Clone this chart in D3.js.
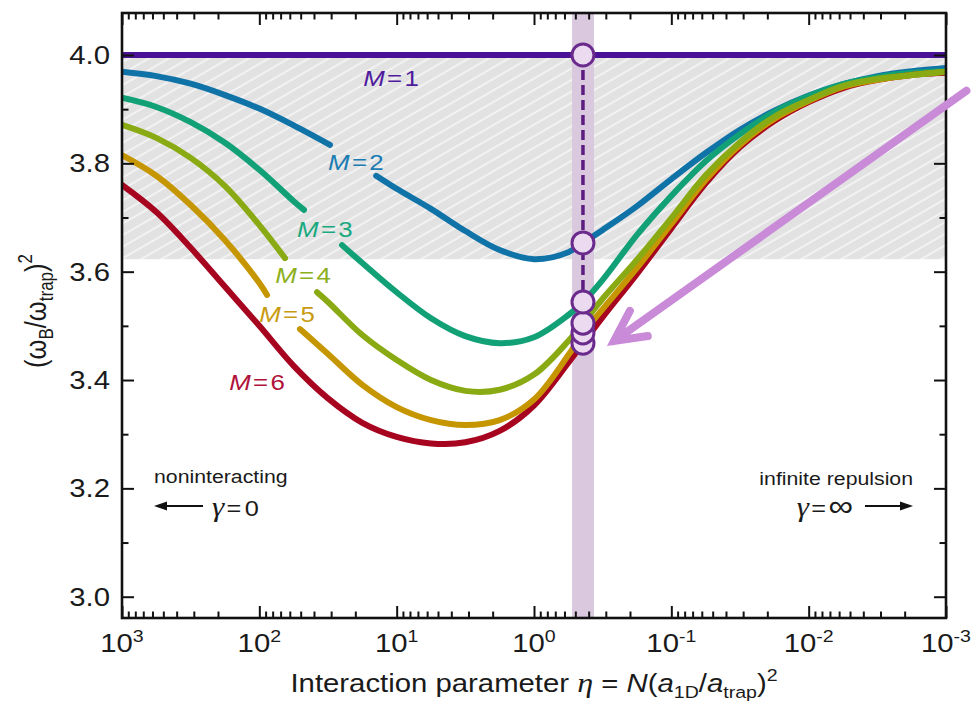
<!DOCTYPE html>
<html>
<head>
<meta charset="utf-8">
<script src="https://cdn.jsdelivr.net/npm/d3@7"></script>
<style>
  body { margin: 0; background: #ffffff; }
  svg { display: block; }
  text { font-family: "Liberation Sans", Arial, Helvetica, sans-serif; fill: #1a1a1a; }
</style>
</head>
<body>
<svg id="chart" width="971" height="701"></svg>
<script>
// Breathing-mode frequency (omega_B/omega_trap)^2 versus interaction parameter eta,
// for particle numbers M = 1 ... 6. Each series is a list of [eta, value] pairs;
// null splits a curve where its label sits.

const particleNumbers = ["1", "2", "3", "4", "5", "6"];

const seriesM1 = [[1000, 4.000], [0.001, 4.000]];

const seriesM2 = [
  [1000, 3.969], [562.3, 3.961], [316.2, 3.947], [177.8, 3.926], [100, 3.901], [56.23, 3.870], [30.6, 3.834],
  null,
  [14.1, 3.777], [10, 3.753], [5.623, 3.716], [3.162, 3.675], [1.778, 3.640], [1, 3.623], [0.5623, 3.636],
  [0.3162, 3.677], [0.1778, 3.721], [0.1, 3.771], [0.05623, 3.819], [0.03162, 3.862], [0.01778, 3.897],
  [0.01, 3.925], [0.005623, 3.946], [0.003162, 3.961], [0.001778, 3.970], [0.001, 3.976]
];

const seriesM3 = [
  [1000, 3.921], [562.3, 3.904], [316.2, 3.876], [177.8, 3.838], [100, 3.788], [56.23, 3.730], [47.3, 3.714],
  null,
  [25.0, 3.649], [17.78, 3.616], [10, 3.562], [5.623, 3.514], [3.162, 3.481], [1.778, 3.468], [1, 3.479],
  [0.5623, 3.520], [0.3162, 3.585], [0.1778, 3.668], [0.1, 3.740], [0.05623, 3.804], [0.03162, 3.854],
  [0.01778, 3.895], [0.01, 3.924], [0.005623, 3.946], [0.003162, 3.959], [0.001778, 3.967], [0.001, 3.970]
];

const seriesM4 = [
  [1000, 3.871], [562.3, 3.847], [316.2, 3.810], [177.8, 3.758], [100, 3.686], [65.0, 3.625],
  null,
  [38.0, 3.562], [31.62, 3.544], [17.78, 3.483], [10, 3.437], [5.623, 3.400], [3.162, 3.380], [1.778, 3.382],
  [1, 3.410], [0.5623, 3.472], [0.3162, 3.550], [0.1778, 3.622], [0.1, 3.699], [0.05623, 3.778],
  [0.03162, 3.839], [0.01778, 3.886], [0.01, 3.917], [0.005623, 3.943], [0.003162, 3.956], [0.001778, 3.963], [0.001, 3.969]
];

const seriesM5 = [
  [1000, 3.815], [562.3, 3.777], [316.2, 3.723], [177.8, 3.658], [100, 3.579], [87.9, 3.557],
  null,
  [50.6, 3.494], [31.62, 3.448], [17.78, 3.391], [10, 3.350], [5.623, 3.326], [3.162, 3.317], [1.778, 3.326],
  [1, 3.364], [0.5623, 3.446], [0.3162, 3.531], [0.1778, 3.607], [0.1, 3.688], [0.05623, 3.769],
  [0.03162, 3.834], [0.01778, 3.882], [0.01, 3.915], [0.005623, 3.941], [0.003162, 3.954], [0.001778, 3.963], [0.001, 3.969]
];

const seriesM6 = [
  [1000, 3.760], [562.3, 3.710], [316.2, 3.644], [177.8, 3.572], [100, 3.500], [56.23, 3.426], [31.62, 3.366],
  [17.78, 3.321], [10, 3.295], [5.623, 3.283], [3.162, 3.285], [1.778, 3.306], [1, 3.353], [0.5623, 3.432],
  [0.3162, 3.516], [0.1778, 3.596], [0.1, 3.680], [0.05623, 3.763], [0.03162, 3.830], [0.01778, 3.878],
  [0.01, 3.913], [0.005623, 3.939], [0.003162, 3.954], [0.001778, 3.963], [0.001, 3.967]
];

// highlighted experimental value of eta and the band around it
const markerEta = 0.44;
const markerValues = [4.000, 3.653, 3.544, 3.505, 3.487, 3.468];
const bandEta = [0.528, 0.366];

// curve label anchors (eta, value)
const labelEta = [11.0, 19.8, 33.3, 48.1, 62.9, 104];
const labelValue = [3.943, 3.788, 3.664, 3.579, 3.507, 3.382];

// axes
const xDecades = [1e3, 1e2, 1e1, 1e0, 1e-1, 1e-2, 1e-3];
const yMajorTicks = [3.0, 3.2, 3.4, 3.6, 3.8, 4.0];
const yMinorTicks = [3.1, 3.3, 3.5, 3.7, 3.9];

// pointer arrow (eta, value) from tail to head
const pointerTail = [7.1e-4, 3.934];
const pointerHead = [0.261, 3.472];

// ---------------------------------------------------------------------------
const series = [seriesM1, seriesM2, seriesM3, seriesM4, seriesM5, seriesM6];
const colors = ["#4a1197", "#1073a8", "#12a076", "#89aa12", "#c69600", "#a6041f"];
const labelColors = ["#4f1a9e", "#1a7cb2", "#1aa97e", "#8cb01c", "#c99b12", "#b0123a"];
const drawOrder = [1, 2, 5, 4, 3, 0];
const S = 1.15; // horizontal glyph stretch of the figure typeface

const W = 971, H = 701;
const plot = { left: 122, right: 946, top: 13, bottom: 618 };

const svg = d3.select("#chart");
svg.append("rect").attr("width", W).attr("height", H).attr("fill", "#ffffff");

const x = d3.scaleLog().domain([1e3, 1e-3]).range([plot.left, plot.right]);
const y = d3.scaleLinear().domain([2.9607, 4.0775]).range([plot.bottom, plot.top]);

const defs = svg.append("defs");
defs.append("clipPath").attr("id", "plotClip")
  .append("rect").attr("x", plot.left).attr("y", plot.top)
  .attr("width", plot.right - plot.left).attr("height", plot.bottom - plot.top);

const hatchGap = 10;
const hatch = defs.append("pattern").attr("id", "hatch")
  .attr("patternUnits", "userSpaceOnUse").attr("width", 20).attr("height", hatchGap)
  .attr("patternTransform", "rotate(-30)");
hatch.append("rect").attr("width", 20).attr("height", hatchGap).attr("fill", "#e2e2e2");
hatch.append("line").attr("x1", 0).attr("x2", 20).attr("y1", hatchGap / 2).attr("y2", hatchGap / 2)
  .attr("stroke", "#ffffff").attr("stroke-width", 1.4).attr("stroke-opacity", 0.8);

const body = svg.append("g").attr("clip-path", "url(#plotClip)");

// shaded region between the M = 2 minimum and the noninteracting value
const shadeFloor = d3.min(seriesM2.filter(d => d), d => d[1]);
body.append("rect")
  .attr("x", plot.left).attr("width", plot.right - plot.left)
  .attr("y", y(4.0)).attr("height", y(shadeFloor) - y(4.0))
  .attr("fill", "url(#hatch)");

// vertical band at the measured interaction strength
body.append("rect")
  .attr("x", x(bandEta[0])).attr("width", x(bandEta[1]) - x(bandEta[0]))
  .attr("y", plot.top).attr("height", plot.bottom - plot.top)
  .attr("fill", "#d9c8de");

// curves (each passes through its marker at markerEta)
const line = d3.line()
  .defined(d => d !== null)
  .x(d => x(d[0])).y(d => y(d[1]))
  .curve(d3.curveCatmullRom.alpha(0.5));

function withMarker(data, v) {
  const pts = data.slice();
  let idx = pts.findIndex(d => d !== null && d[0] < markerEta);
  if (idx < 0) idx = pts.length;
  pts.splice(idx, 0, [markerEta, v]);
  return pts;
}

drawOrder.forEach(i => {
  body.append("path")
    .attr("d", line(i === 0 ? series[i] : withMarker(series[i], markerValues[i])))
    .attr("fill", "none")
    .attr("stroke", colors[i])
    .attr("stroke-width", 6)
    .attr("stroke-linecap", i === 0 ? "butt" : "round")
    .attr("stroke-linejoin", "round");
});

// dashed guide from M = 1 down to M = 3
body.append("line")
  .attr("x1", x(markerEta)).attr("x2", x(markerEta))
  .attr("y1", y(markerValues[0])).attr("y2", y(markerValues[2]))
  .attr("stroke", "#5c1c80").attr("stroke-width", 3.5).attr("stroke-dasharray", "10,5");

// markers, drawn from M = 6 up so the upper ones sit on top
d3.range(markerValues.length).reverse().forEach(i => {
  body.append("circle")
    .attr("cx", x(markerEta)).attr("cy", y(markerValues[i])).attr("r", 11)
    .attr("fill", "#ecdaf1").attr("stroke", "#6a2b8d").attr("stroke-width", 3);
});

// ---------------------------------------------------------------------------
// axes: inward ticks on all four sides
const xMinorTicks = x.ticks().filter(d => !xDecades.some(t => Math.abs(Math.log10(d) - Math.log10(t)) < 1e-6));

function tickStyle(g) {
  g.select(".domain").remove();
  g.selectAll(".tick line").attr("stroke", "#111").attr("stroke-width", 2);
}

svg.append("g").attr("transform", `translate(0,${plot.bottom})`)
  .call(d3.axisBottom(x).tickValues(xDecades).tickSize(-12).tickSizeOuter(0).tickFormat(""))
  .call(tickStyle);
svg.append("g").attr("transform", `translate(0,${plot.bottom})`)
  .call(d3.axisBottom(x).tickValues(xMinorTicks).tickSize(-6.5).tickSizeOuter(0).tickFormat(""))
  .call(tickStyle);
svg.append("g").attr("transform", `translate(0,${plot.top})`)
  .call(d3.axisTop(x).tickValues(xDecades).tickSize(-12).tickSizeOuter(0).tickFormat(""))
  .call(tickStyle);
svg.append("g").attr("transform", `translate(0,${plot.top})`)
  .call(d3.axisTop(x).tickValues(xMinorTicks).tickSize(-6.5).tickSizeOuter(0).tickFormat(""))
  .call(tickStyle);
svg.append("g").attr("transform", `translate(${plot.left},0)`)
  .call(d3.axisLeft(y).tickValues(yMajorTicks).tickSize(-12).tickSizeOuter(0).tickFormat(""))
  .call(tickStyle);
svg.append("g").attr("transform", `translate(${plot.left},0)`)
  .call(d3.axisLeft(y).tickValues(yMinorTicks).tickSize(-6.5).tickSizeOuter(0).tickFormat(""))
  .call(tickStyle);
svg.append("g").attr("transform", `translate(${plot.right},0)`)
  .call(d3.axisRight(y).tickValues(yMajorTicks).tickSize(-12).tickSizeOuter(0).tickFormat(""))
  .call(tickStyle);
svg.append("g").attr("transform", `translate(${plot.right},0)`)
  .call(d3.axisRight(y).tickValues(yMinorTicks).tickSize(-6.5).tickSizeOuter(0).tickFormat(""))
  .call(tickStyle);

// frame
svg.append("rect")
  .attr("x", plot.left).attr("y", plot.top)
  .attr("width", plot.right - plot.left).attr("height", plot.bottom - plot.top)
  .attr("fill", "none").attr("stroke", "#111").attr("stroke-width", 2.6);

// stretched text helper
function stext(px, py, size, anchor) {
  return svg.append("text")
    .attr("transform", `translate(${px},${py}) scale(${S},1)`)
    .attr("font-size", size)
    .attr("text-anchor", anchor);
}

// y tick labels
yMajorTicks.forEach(v => {
  stext(plot.left - 12, y(v) + 9, 25.5, "end").text(d3.format(".1f")(v));
});

// x tick labels as powers of ten
xDecades.forEach(d => {
  const t = stext(x(d), 652, 25.5, "middle");
  t.append("tspan").text("10");
  t.append("tspan").attr("dy", -10).attr("font-size", 17).text(String(Math.round(Math.log10(d))));
});

// x axis title
{
  const t = stext(534, 692, 25.5, "middle");
  t.append("tspan").text("Interaction parameter ");
  t.append("tspan").attr("font-family", "Liberation Serif, serif").attr("font-style", "italic").attr("font-size", 28).text("η");
  t.append("tspan").text(" = ");
  t.append("tspan").attr("font-style", "italic").text("N");
  t.append("tspan").text("(");
  t.append("tspan").attr("font-style", "italic").text("a");
  t.append("tspan").attr("font-size", 17).attr("dy", 6).text("1D");
  t.append("tspan").attr("dy", -6).text("/");
  t.append("tspan").attr("font-style", "italic").text("a");
  t.append("tspan").attr("font-size", 17).attr("dy", 6).text("trap");
  t.append("tspan").attr("dy", -6).text(")");
  t.append("tspan").attr("font-size", 17).attr("dy", -11).text("2");
}

// y axis title
{
  const t = svg.append("text")
    .attr("transform", `translate(46,311) rotate(-90) scale(1,${S})`)
    .attr("font-size", 25.5).attr("text-anchor", "middle");
  t.append("tspan").text("(ω");
  t.append("tspan").attr("font-size", 17).attr("dy", 6).text("B");
  t.append("tspan").attr("dy", -6).text("/ω");
  t.append("tspan").attr("font-size", 17).attr("dy", 6).text("trap");
  t.append("tspan").attr("dy", -6).text(")");
  t.append("tspan").attr("font-size", 17).attr("dy", -12).text("2");
}

// curve labels
particleNumbers.forEach((m, i) => {
  const t = stext(x(labelEta[i]), y(labelValue[i]), 22.5, "middle").style("fill", labelColors[i]);
  t.append("tspan").attr("font-style", "italic").text("M");
  t.append("tspan").attr("dx", 2).text("=");
  t.append("tspan").attr("dx", 2).text(m);
});

// limiting-regime annotations
stext(plot.left + 32, 483, 18.5, "start").text("noninteracting");
stext(plot.right - 33, 485, 18.5, "end").text("infinite repulsion");

function blackArrow(xFrom, xTo, yy) {
  const dir = Math.sign(xTo - xFrom);
  svg.append("line").attr("x1", xFrom).attr("x2", xTo - dir * 8).attr("y1", yy).attr("y2", yy)
    .attr("stroke", "#111").attr("stroke-width", 2);
  svg.append("path")
    .attr("d", `M${xTo},${yy} L${xTo - dir * 13},${yy - 4.5} L${xTo - dir * 13},${yy + 4.5} Z`)
    .attr("fill", "#111");
}
blackArrow(plot.left + 81, plot.left + 32, 506);
blackArrow(plot.right - 81, plot.right - 33, 506);

{
  const t = stext(plot.left + 90, 516, 22, "start");
  t.append("tspan").attr("font-family", "Liberation Serif, serif").attr("font-style", "italic").attr("font-size", 27).text("γ");
  t.append("tspan").attr("dx", 2).text("=");
  t.append("tspan").attr("dx", 3).text("0");
}
{
  const t = stext(plot.right - 93, 516, 22, "end");
  t.append("tspan").attr("font-family", "Liberation Serif, serif").attr("font-style", "italic").attr("font-size", 27).text("γ");
  t.append("tspan").attr("dx", 2).text("=");
  t.append("tspan").attr("dx", 2).attr("font-size", 30).text("∞");
}

// pointer arrow
{
  const tx = x(pointerTail[0]), ty = y(pointerTail[1]);
  const hx = x(pointerHead[0]), hy = y(pointerHead[1]);
  const ang = Math.atan2(ty - hy, tx - hx);
  const L = 34, spread = 27 * Math.PI / 180;
  const a1 = [hx + L * Math.cos(ang + spread), hy + L * Math.sin(ang + spread)];
  const a2 = [hx + L * Math.cos(ang - spread), hy + L * Math.sin(ang - spread)];
  svg.append("path")
    .attr("d", `M${tx},${ty} L${hx},${hy} M${a1[0]},${a1[1]} L${hx},${hy} L${a2[0]},${a2[1]}`)
    .attr("fill", "none").attr("stroke", "#c98ad8").attr("stroke-width", 8)
    .attr("stroke-linecap", "round").attr("stroke-linejoin", "miter");
}
</script>
</body>
</html>
